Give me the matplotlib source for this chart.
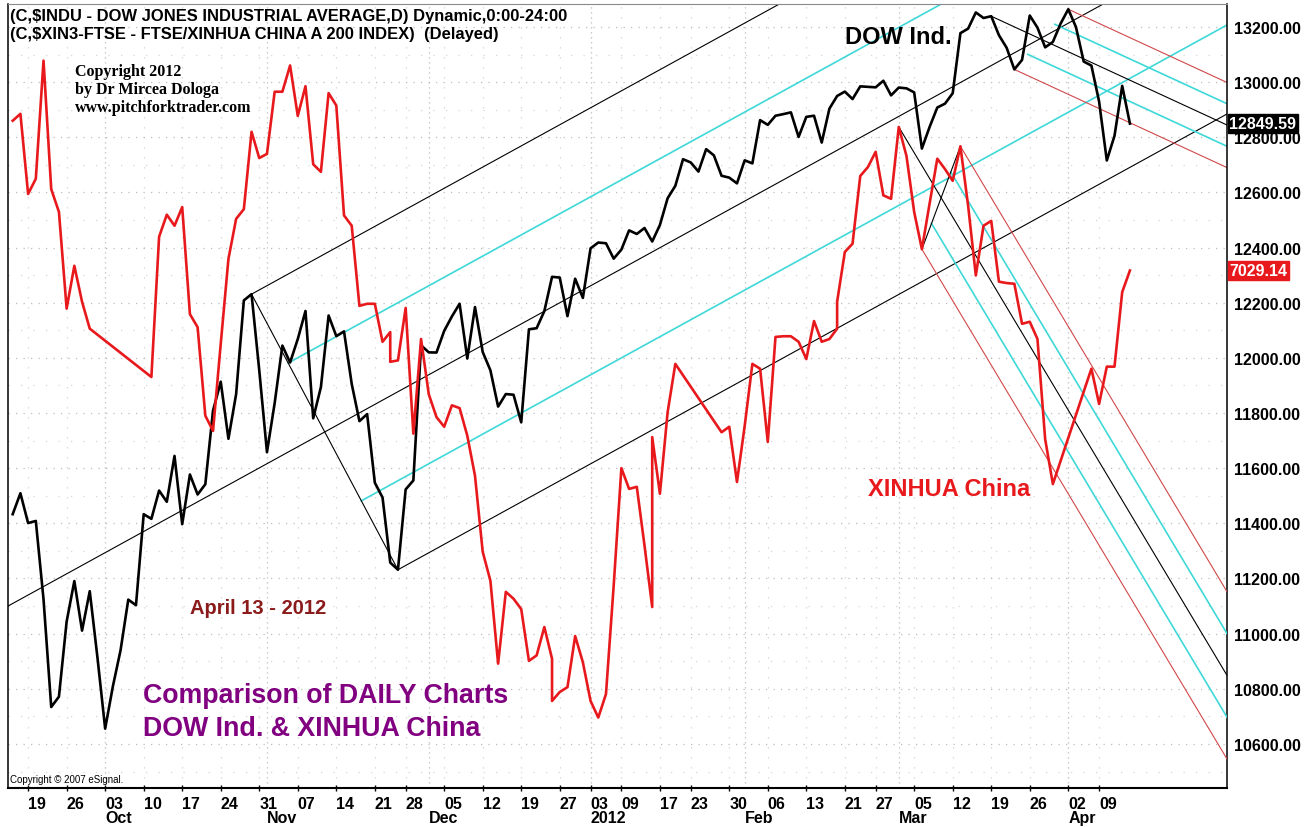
import matplotlib.pyplot as plt
import numpy as np
import pandas as pd

plt.rcParams["font.family"] = ["Liberation Sans", "DejaVu Sans"]

# trading days on the chart (US calendar)
us_holidays = ["2011-11-24", "2011-12-26", "2012-01-02", "2012-01-16", "2012-02-20", "2012-04-06"]
days = pd.bdate_range("2011-09-15", "2012-04-13")
days = days[~days.isin(pd.to_datetime(us_holidays))]

# DOW Jones Industrial Average, daily close
dow = [
    11433.18, 11509.09, 11401.01, 11408.66, 11124.84, 10733.83, 10771.48, 11043.86, 11190.69, 11010.90,
    11153.98, 10913.38,
    10655.30, 10808.71, 10939.95, 11123.33, 11103.12, 11433.18, 11416.30, 11518.85, 11478.13, 11644.49,
    11397.00, 11577.05, 11504.62, 11541.78, 11808.79, 11913.62, 11706.62, 11869.04, 12208.55, 12231.11,
    11955.01,
    11657.96, 11836.04, 12044.47, 11983.24, 12068.39, 12170.18, 11780.94, 11893.86, 12153.68, 12078.98,
    12096.16, 11905.59, 11770.73, 11796.16, 11547.31, 11493.72, 11257.55, 11231.78, 11523.01, 11555.63,
    12045.68,
    12020.03, 12019.42, 12097.83, 12150.13, 12196.37, 11997.70, 12184.26, 12021.39, 11954.94, 11823.48,
    11868.81, 11866.39, 11766.26, 12103.58, 12107.74, 12169.65, 12294.00, 12291.35, 12151.41, 12287.04,
    12217.56,
    12397.38, 12418.42, 12415.70, 12359.92, 12392.69, 12462.47, 12449.45, 12471.02, 12422.06, 12482.07,
    12578.95, 12623.98, 12720.48, 12708.82, 12675.75, 12756.96, 12734.63, 12660.46, 12653.72, 12632.91,
    12716.46, 12705.41, 12862.23, 12845.13, 12878.20, 12883.95, 12890.46, 12801.23, 12874.04, 12878.28,
    12780.95, 12904.08, 12949.87, 12965.69, 12938.67, 12984.69, 12982.95, 12981.20, 13005.12, 12952.07,
    12980.30, 12977.57, 12962.81, 12759.15, 12837.33, 12907.94, 12922.02, 12959.71, 13177.68, 13194.10,
    13252.76, 13232.62, 13239.13, 13170.19, 13124.62, 13046.14, 13080.73, 13241.63, 13197.73, 13126.21,
    13145.82, 13212.04,
    13264.49, 13199.55, 13074.75, 13060.14, 12929.59, 12715.93, 12805.39, 12986.58, 12849.59,
]

# FTSE/Xinhua China A200, one value per US bar (None = no Chinese session)
xinhua = [
    7246, 7256, 7140, 7162, 7333, 7147, 7114, 6974, 7036, 6984, 6945,
    None, None, None, None, None, None, None,
    6875, 7078, 7110, 7094, 7121, 6966, 6947, 6819, 6797, 6923, 7046, 7104, 7118, 7230, 7192, 7198,
    7288, 7288, 7326, 7253, 7296, 7183, 7172, 7286, 7268, 7109, 7094, 6978, 6981, 6981, 6926, 6940,
    6899, 6975, 6793, 6930, 6850, 6817, 6803, 6834, 6830, 6790, 6732, 6622, 6580, 6460, 6564, 6554,
    6539, 6464, 6472, 6513, 6467, 6419, 6426, 6500, 6462, 6406, 6382, 6416, 6573, 6743, 6713, 6716,
    6631, 6542, 6706, 6824, 6894,
    None, None, None, None, None,
    6795, 6803, 6723, 6804, 6894, 6887, 6781, 6933, 6934, 6934, 6926, 6901, 6956, 6926, 6930, 6945,
    7056, 7068, 7166, 7179, 7201, 7138, 7133, 7237, 7195, 7114, 7060, 7126, 7191, 7176, 7159, 7209,
    7123, 7022, 7094, 7101, 7013, 7011, 7010, 6952, 6955, 6930, 6785, 6720,
    None, None, None, None,
    6887, 6836, 6890, 6890, 6998, 7029.14,
]
# Chinese sessions on US holidays (drawn on the previous bar)
xinhua_extra = {"2011-11-24": 6897, "2011-12-26": 6406, "2012-01-16": 6788, "2012-02-20": 6984}

# pitchfork anchors: (date, value or None = take the series value); first pivot lies left of the chart
fork_dow_up = [(-1, 11094), ("2011-10-28", None), ("2011-11-25", None)]
fork_dow_down = [("2012-03-19", None), ("2012-03-22", None), ("2012-04-02", None)]
fork_xin_down = [("2012-03-01", None), ("2012-03-06", None), ("2012-03-13", None)]

W, H = 1313, 828
fig = plt.figure(figsize=(W / 100, H / 100), dpi=100)
ax = fig.add_axes([8 / W, 39 / H, 1219 / W, 784 / H])
ax2 = ax.twinx()

x = np.arange(len(days))
idx = {d.strftime("%Y-%m-%d"): i for i, d in enumerate(days)}

rx, ry = [], []
extra = {pd.Timestamp(k): v for k, v in xinhua_extra.items()}
for i in x:
    if xinhua[i] is not None:
        rx.append(i)
        ry.append(xinhua[i])
    for k, v in extra.items():
        if days.searchsorted(k) - 1 == i:
            rx.append(i)
            ry.append(v)

cyan = "#3fd8d8"
thin_red = "#d0484a"


def anchor(p, series):
    if isinstance(p[0], str):
        i = idx[p[0]]
        return i, series[i]
    return p


def pitchfork(axis, pts, series, outer, connector=True, x_end=175):
    p0, p1, p2 = [anchor(p, series) for p in pts]
    mx, my = (p1[0] + p2[0]) / 2, (p1[1] + p2[1]) / 2
    slope = (my - p0[1]) / (mx - p0[0])

    def ray(x0, y0, color, lw):
        axis.plot([x0, x_end], [y0, y0 + slope * (x_end - x0)], color=color, lw=lw, zorder=2)

    ray(p0[0], p0[1], "black", 0.8)
    ray(p1[0], p1[1], outer, 0.8)
    ray(p2[0], p2[1], outer, 0.8)
    for f in (0.25, 0.75):
        ray(p1[0] + f * (p2[0] - p1[0]), p1[1] + f * (p2[1] - p1[1]), cyan, 1.2)
    if connector:
        axis.plot([p1[0], p2[0]], [p1[1], p2[1]], color="black", lw=0.8, zorder=2)


xin_series = {}
for i, v in zip(rx, ry):
    xin_series.setdefault(i, v)
pitchfork(ax, fork_dow_up, dow, "black")
pitchfork(ax, fork_dow_down, dow, thin_red, connector=False)
pitchfork(ax2, fork_xin_down, xin_series, thin_red)

ax.plot(x, dow, color="black", lw=1.9, zorder=3)
ax2.plot(rx, ry, color="#e8191c", lw=1.9, zorder=3)

ax.set_xlim(-0.61, 157.6)
ax.set_ylim(10440.2, 13283.4)
ax2.set_ylim(6280, 7415)
ax2.set_yticks([])
for s in ax2.spines.values():
    s.set_visible(False)

# grid
ax.set_yticks(np.arange(10600, 13201, 200))
ax.set_yticks(np.arange(10500, 13201, 200), minor=True)
ax.grid(axis="y", which="major", color="#bdbdbd", ls=(0, (1, 5)), lw=0.9)
ax.grid(axis="y", which="minor", color="#d6d6d6", ls=(0, (1, 9)), lw=0.9)

week_pos, week_lab = [], []
month_pos, month_lab = [], []
for i, d in enumerate(days):
    if i > 0 and d.weekday() < days[i - 1].weekday():
        week_pos.append(i)
        week_lab.append(f"{d.day:02d}")
    if i > 0 and d.month != days[i - 1].month:
        month_pos.append(i)
        month_lab.append("2012" if d.month == 1 else d.strftime("%b"))

ax.set_xticks(week_pos)
ax.set_xticklabels(week_lab)
ax.grid(axis="x", which="major", color="#d2d2d2", ls=(0, (1, 7)), lw=0.9)
for m in month_pos:
    ax.axvline(m, color="#bdbdbd", ls=(0, (1, 3)), lw=0.9, zorder=0)

ax.tick_params(axis="x", direction="inout", length=5, width=1, pad=3, labelsize=11.5)
for lab in ax.get_xticklabels():
    lab.set_horizontalalignment("left")
    lab.set_fontweight("bold")
for m, name in zip(month_pos, month_lab):
    ax.text(m, -0.037, name, transform=ax.get_xaxis_transform(), ha="left", va="center",
            fontsize=11.5, fontweight="bold")

ax.yaxis.tick_right()
ax.yaxis.set_major_formatter(plt.FormatStrFormatter("%.2f"))
ax.tick_params(axis="y", which="both", length=0, pad=5, labelsize=11.5)
for lab in ax.get_yticklabels():
    lab.set_fontweight("bold")

for side in ("left", "right", "bottom"):
    ax.spines[side].set_color("black")
    ax.spines[side].set_linewidth(1.1)
ax.spines["bottom"].set_linewidth(1.5)
ax.spines["top"].set_color("#8a8a8a")

# price tags
ax.text(1.002, dow[-1], f"{dow[-1]:.2f}", transform=ax.get_yaxis_transform(), ha="left", va="center",
        color="white", fontsize=11.5, fontweight="bold",
        bbox=dict(boxstyle="square,pad=0.12", fc="black", ec="black"), zorder=10, clip_on=False)
ax2.text(1.002, ry[-1], f"{ry[-1]:.2f}", transform=ax2.get_yaxis_transform(), ha="left", va="center",
         color="white", fontsize=11.5, fontweight="bold",
         bbox=dict(boxstyle="square,pad=0.12", fc="#e8191c", ec="#e8191c"), zorder=10, clip_on=False)


def ftext(px, py, s, **kw):
    fig.text(px / W, 1 - py / H, s, va="center", ha="left", **kw)


ftext(10, 17, "(C,$INDU - DOW JONES INDUSTRIAL AVERAGE,D) Dynamic,0:00-24:00",
      fontsize=11.9, fontweight="bold")
ftext(10, 34, "(C,$XIN3-FTSE - FTSE/XINHUA CHINA A 200 INDEX)  (Delayed)",
      fontsize=11.9, fontweight="bold")
for k, line in enumerate(["Copyright 2012", "by Dr Mircea Dologa", "www.pitchforktrader.com"]):
    ftext(75, 72 + 18 * k, line, fontsize=11.5, fontweight="bold", family="Liberation Serif")
ftext(845, 37, "DOW Ind.", fontsize=17, fontweight="bold")
ftext(868, 490, "XINHUA China", fontsize=17, fontweight="bold", color="#e8191c")
ftext(190, 608, "April 13 - 2012", fontsize=14.5, fontweight="bold", color="#8b1a1a")
ftext(143, 696, "Comparison of DAILY Charts", fontsize=19.3, fontweight="bold", color="#800080")
ftext(143, 729, "DOW Ind. & XINHUA China", fontsize=19.3, fontweight="bold", color="#800080")
ftext(10, 780, "Copyright \u00a9 2007 eSignal.", fontsize=7)

fig.savefig("out.png", dpi=100)
